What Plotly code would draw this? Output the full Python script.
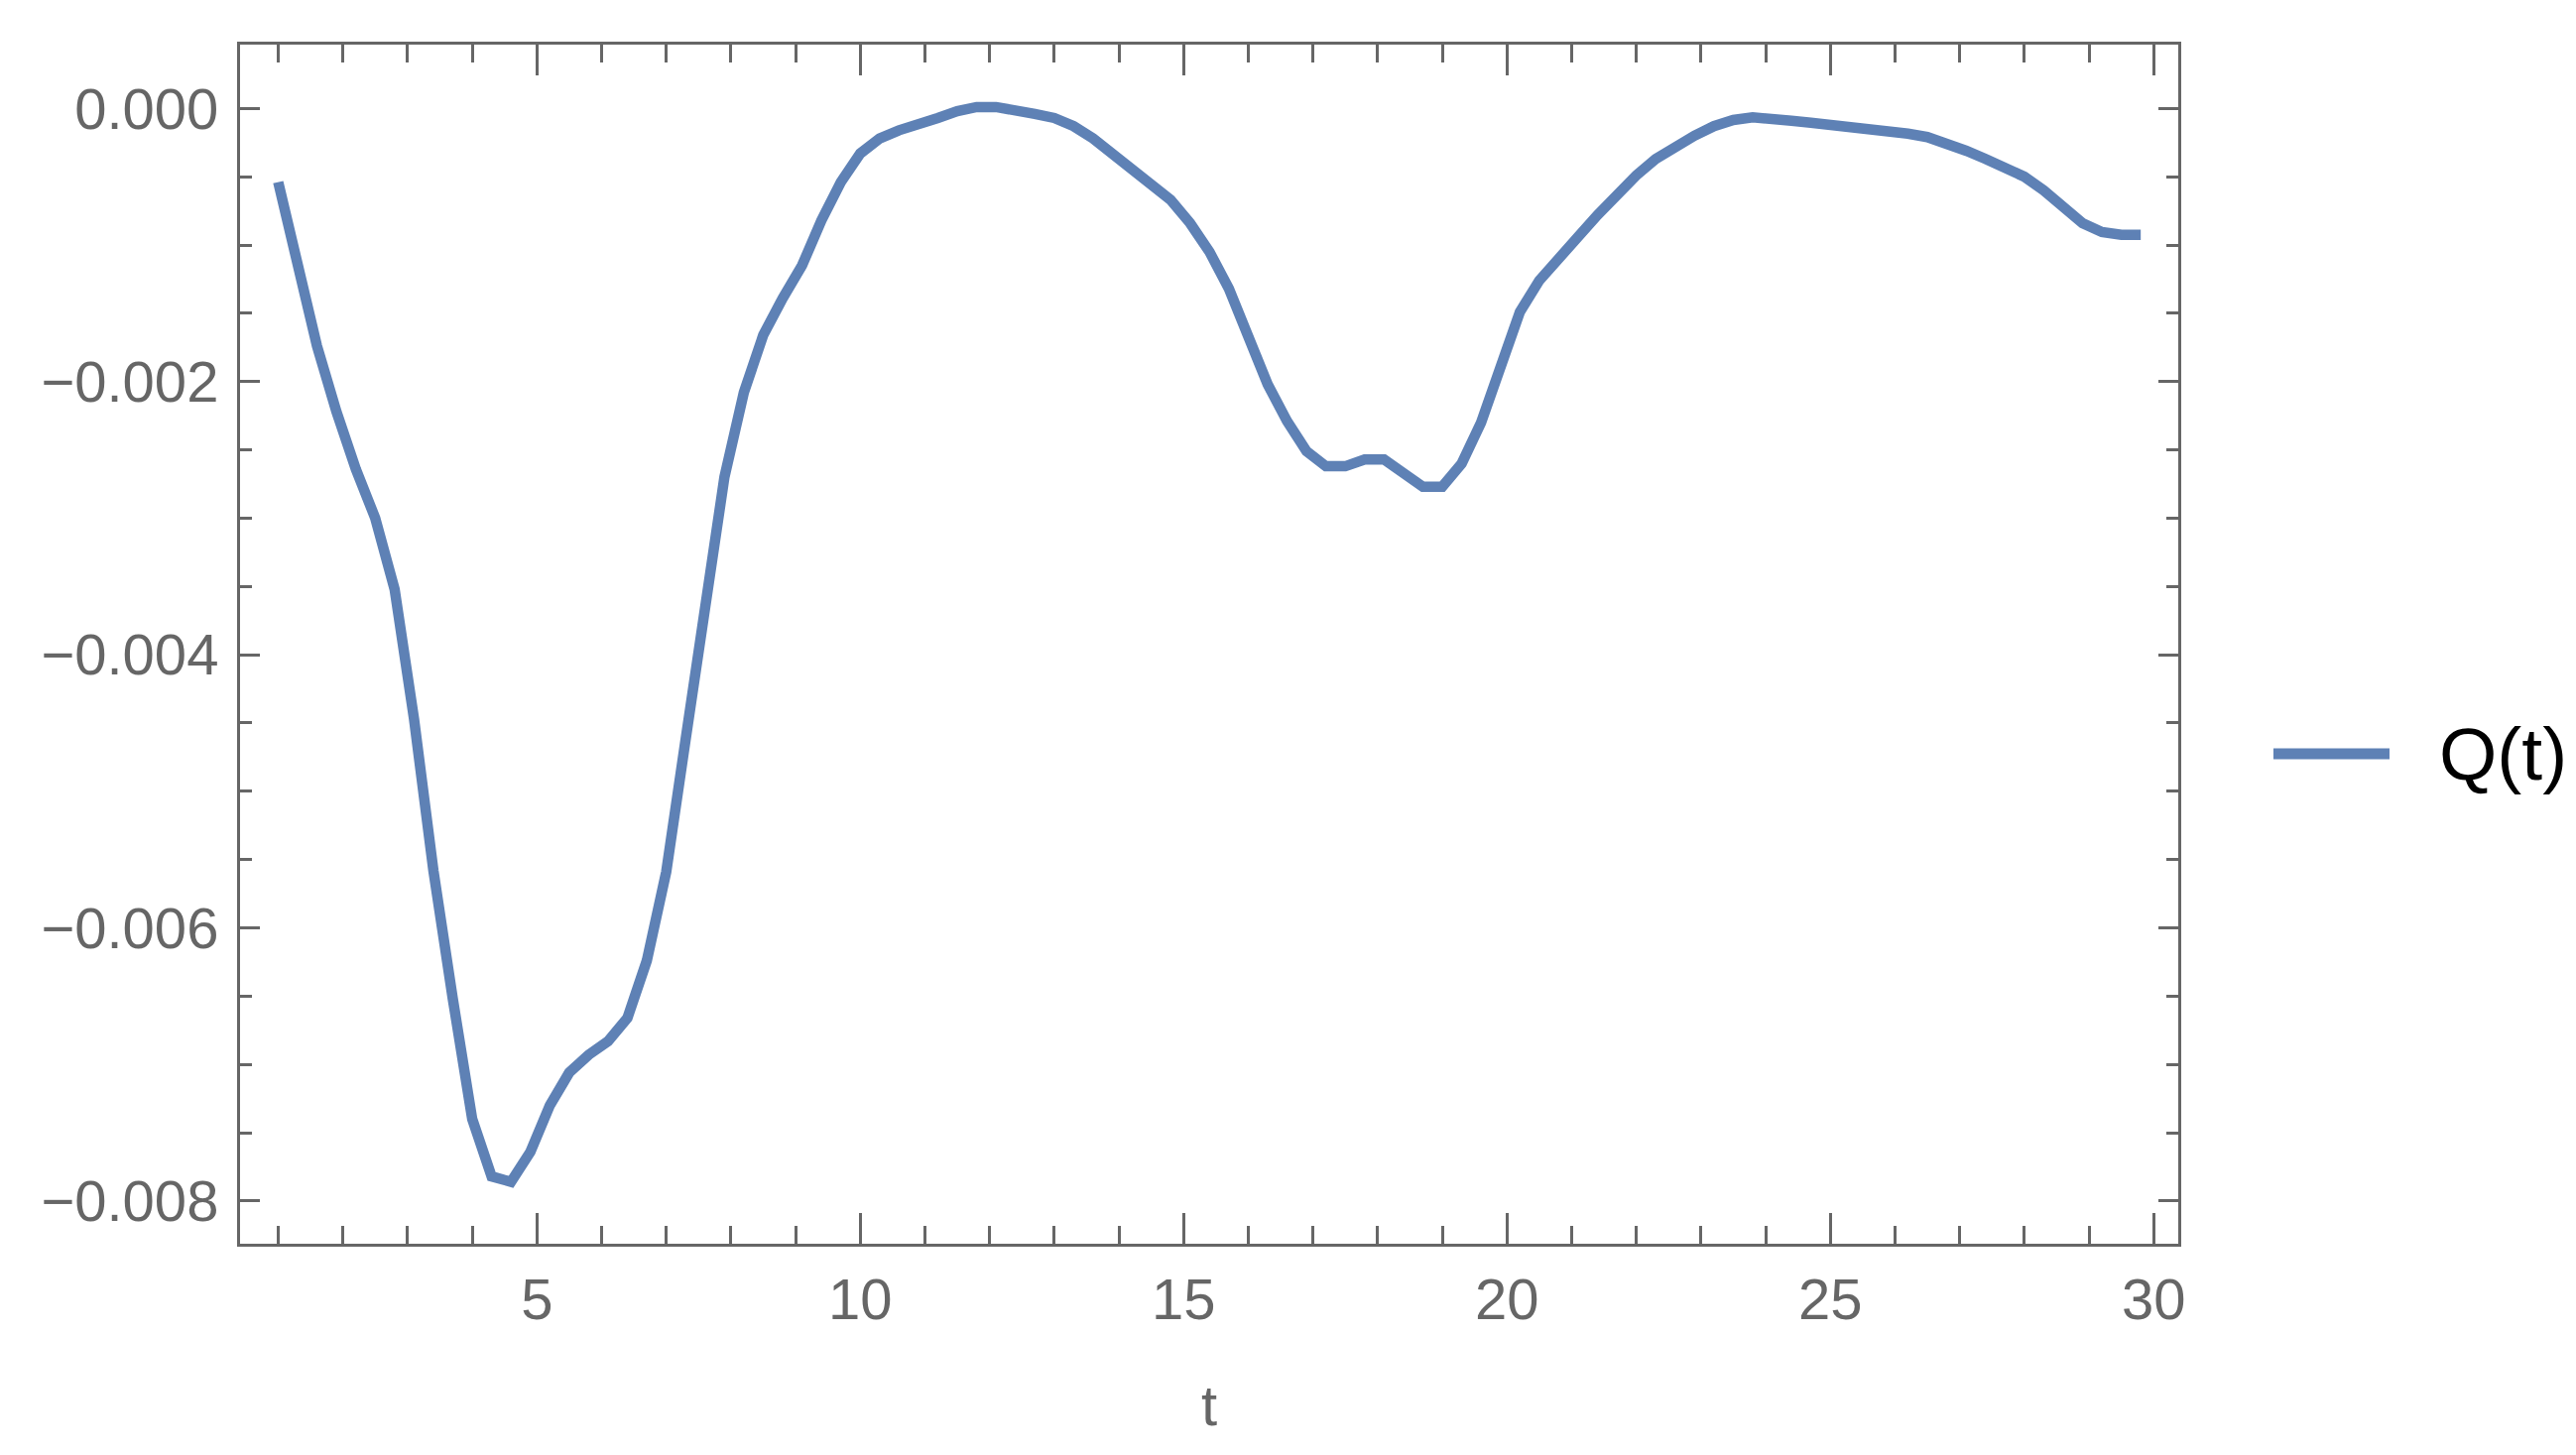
import plotly.graph_objects as go

# sample times (step 0.3)
t = [1.0, 1.3, 1.6, 1.9, 2.2, 2.5, 2.8, 3.1, 3.4, 3.7,
     4.0, 4.3, 4.6, 4.9, 5.2, 5.5, 5.8, 6.1, 6.4, 6.7,
     7.0, 7.3, 7.6, 7.9, 8.2, 8.5, 8.8, 9.1, 9.4, 9.7,
     10.0, 10.3, 10.6, 10.9, 11.2, 11.5, 11.8, 12.1, 12.4, 12.7,
     13.0, 13.3, 13.6, 13.9, 14.2, 14.5, 14.8, 15.1, 15.4, 15.7,
     16.0, 16.3, 16.6, 16.9, 17.2, 17.5, 17.8, 18.1, 18.4, 18.7,
     19.0, 19.3, 19.6, 19.9, 20.2, 20.5, 20.8, 21.1, 21.4, 21.7,
     22.0, 22.3, 22.6, 22.9, 23.2, 23.5, 23.8, 24.1, 24.4, 24.7,
     25.0, 25.3, 25.6, 25.9, 26.2, 26.5, 26.8, 27.1, 27.4, 27.7,
     28.0, 28.3, 28.6, 28.9, 29.2, 29.5, 29.8]

# Q(t) in units of 1e-3
q_milli = [-0.54, -1.17, -1.74, -2.22, -2.64, -3.00, -3.52, -4.47, -5.58, -6.52,
           -7.40, -7.82, -7.86, -7.64, -7.30, -7.06, -6.93, -6.83, -6.66, -6.24,
           -5.59, -4.62, -3.68, -2.70, -2.08, -1.66, -1.39, -1.15, -0.82, -0.54,
           -0.33, -0.22, -0.16, -0.12, -0.07, -0.02, 0.01, 0.01, -0.01, -0.04,
           -0.07, -0.13, -0.22, -0.33, -0.45, -0.55, -0.67, -0.84, -1.05, -1.32,
           -1.69, -2.02, -2.29, -2.51, -2.62, -2.62, -2.57, -2.57, -2.67, -2.77,
           -2.77, -2.60, -2.30, -1.87, -1.49, -1.26, -1.09, -0.94, -0.78, -0.63,
           -0.49, -0.37, -0.28, -0.20, -0.13, -0.085, -0.066, -0.07, -0.09, -0.105,
           -0.12, -0.133, -0.145, -0.163, -0.185, -0.21, -0.255, -0.31, -0.37, -0.43,
           -0.50, -0.60, -0.73, -0.84, -0.905, -0.925, -0.925]
q = [v * 1e-3 for v in q_milli]

x_ticks = [5, 10, 15, 20, 25, 30]
y_ticks = [0.0, -0.002, -0.004, -0.006, -0.008]
y_ticktext = ["0.000", "\u22120.002", "\u22120.004", "\u22120.006", "\u22120.008"]

FRAME = "#666666"
LINE = "#5E81B5"
FONT = "Liberation Sans, Arial, sans-serif"

fig = go.Figure()
fig.add_trace(go.Scatter(x=t, y=q, mode="lines",
                         line=dict(color=LINE, width=10.5), showlegend=False))

# page body has an 8px margin, so the margins are 8px smaller than measured
fig.update_layout(
    width=2589, height=1459,
    margin=dict(l=234, r=401, t=37, b=213, autoexpand=False),
    paper_bgcolor="white", plot_bgcolor="white",
    font=dict(family=FONT, color=FRAME),
)

fig.update_xaxes(
    range=[0.41, 30.38], tickvals=x_ticks, ticks="inside", ticklen=31, tickwidth=3,
    tickcolor=FRAME, showline=True, linecolor=FRAME, linewidth=3, mirror="allticks",
    minor=dict(dtick=1, tick0=0, ticks="inside", ticklen=18, tickwidth=3, tickcolor=FRAME),
    showgrid=False, zeroline=False, tickfont=dict(size=58, color=FRAME),
    ticklabelstandoff=3,
    title=dict(text="t", font=dict(size=58, color=FRAME), standoff=56),
    automargin=False,
)
fig.update_yaxes(
    range=[-0.008313, 0.000467], tickvals=y_ticks, ticktext=y_ticktext,
    ticks="inside", ticklen=20, tickwidth=3, tickcolor=FRAME,
    showline=True, linecolor=FRAME, linewidth=3, mirror="allticks",
    minor=dict(dtick=0.0005, tick0=0, ticks="inside", ticklen=12, tickwidth=3, tickcolor=FRAME),
    showgrid=False, zeroline=False, tickfont=dict(size=58, color=FRAME),
    ticklabelstandoff=7, automargin=False,
)

# legend drawn by hand so the swatch matches the long Mathematica line key
fig.add_shape(type="line", xref="paper", yref="paper",
              x0=1.0491, x1=1.109, y0=0.4086, y1=0.4086,
              line=dict(color=LINE, width=11))
fig.add_annotation(xref="paper", yref="paper", x=1.1336, y=0.4086,
                   xanchor="left", yanchor="middle", showarrow=False,
                   text="Q(t)", font=dict(size=75, color="black", family=FONT))

fig.write_html("out.html")
